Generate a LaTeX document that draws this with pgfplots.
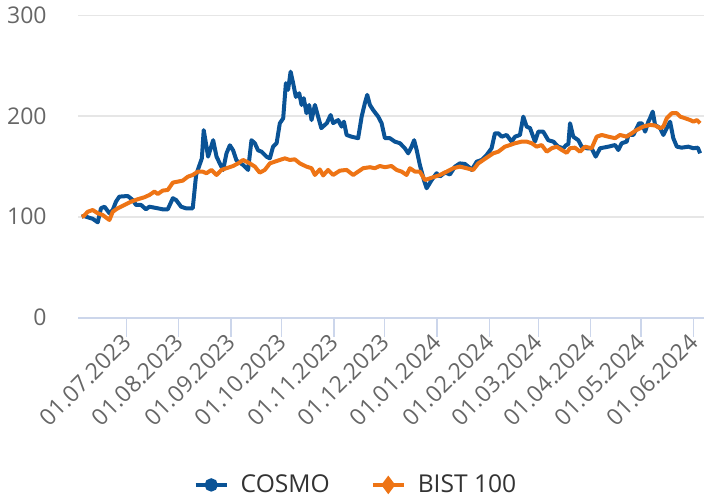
\documentclass[border=0pt]{standalone}
\usepackage{pgfplots}
\pgfplotsset{compat=1.18}
\usepackage{fontspec}
\setmainfont{Open Sans}
\definecolor{cosmo}{HTML}{0A5396}
\definecolor{bist}{HTML}{EE7415}
\definecolor{axisc}{HTML}{CCD6EB}
\definecolor{gridc}{HTML}{E6E6E6}
\definecolor{labc}{HTML}{666666}
\definecolor{legc}{HTML}{333333}
\begin{document}
\begin{tikzpicture}
\begin{axis}[
  scale only axis, width=313pt, height=151.1pt,
  at={(39pt,90.75pt)}, anchor=south west,
  xmin=-28.7, xmax=342.3, ymin=0, ymax=300,
  ytick={0,100,200,300},
  ymajorgrids, grid style={gridc, line width=0.75pt},
  axis x line*=bottom, axis y line*=left,
  x axis line style={axisc, line width=1pt, -},
  y axis line style={draw=none},
  xtick={0,31,62,92,123,153,184,215,244,275,305,336},
  xticklabels={01.07.2023,01.08.2023,01.09.2023,01.10.2023,01.11.2023,01.12.2023,01.01.2024,01.02.2024,01.03.2024,01.04.2024,01.05.2024,01.06.2024},
  tick align=outside, major tick length=9.5pt,
  xtick style={axisc, line width=0.6pt},
  ytick style={draw=none},
  xticklabel style={xshift=1pt, rotate=45, anchor=east, inner sep=1pt, font=\fontsize{11.5}{13}\selectfont, text=labc},
  yticklabel style={anchor=east, inner sep=0pt, font=\fontsize{11.5}{13}\selectfont, text=labc, xshift=-6pt},
  /pgf/number format/assume math mode=true,
  legend style={at={(0.4425,-0.554)}, anchor=center, draw=none, fill=none,
    font=\fontsize{12.3}{14}\selectfont, text=legc,
    nodes={inner sep=0pt},
    /tikz/every odd column/.append style={column sep=6pt},
    /tikz/every even column/.append style={column sep=20.5pt}},
  legend columns=2, legend cell align=left,
  legend image code/.code={\draw[mark repeat=2,mark phase=2,#1] plot coordinates {(0pt,0pt) (7.75pt,0pt) (15.5pt,0pt)};},
]
\addlegendimage{cosmo, line width=2pt, mark=*, mark size=2.3pt, mark options={solid}}
\addlegendentry{COSMO}
\addlegendimage{bist, line width=2pt, mark=diamond*, mark size=3pt, mark options={solid}}
\addlegendentry{BIST 100}
\addplot[cosmo, line width=2pt, line join=round, forget plot] coordinates {
(-26.5,100) (-25.3,100.8) (-22.9,99.5) (-20.0,98) (-17.0,94.5) (-15.1,108.4) (-13.0,110) (-10.1,103.5) (-8.1,106.7) (-6.2,115) (-4.2,120)
(0.8,120.6) (3.7,116.7) (5.7,111.7) (8.7,111.7) (11.6,107.4) (13.6,110) (18.6,108.4) (21.5,107.4) (24.5,107.4) (27.5,118.4) (29.4,116.7)
(32.4,110) (35.3,108.4) (39.3,108.4) (41.3,141.5) (42.3,146.5) (44.7,158) (45.8,186) (47.2,172) (48.4,159.7) (51.4,176) (53.4,159.7)
(55.3,153) (57.3,146.5) (59.3,163) (61.3,171) (63.2,166) (65.2,156) (69.1,151.5) (72.1,146.5) (74.1,176) (76.1,173) (78.0,166)
(80.1,164.6) (83.0,159.7) (85.0,158) (86.9,169.6) (89.0,173) (90.9,192.8) (92.9,197.8) (94.5,232.6) (95.8,226) (97.3,244) (98.8,232.6)
(100.4,219) (102.4,222.6) (103.8,211) (105.1,217.7) (106.7,202.8) (108.3,211) (109.7,196) (111.7,211) (113.6,199.4) (115.5,188)
(118.8,193) (121.0,201) (122.5,193) (125.5,196) (127.5,189.5) (128.9,194.4) (130.5,181.2) (133.4,179.5) (137.3,178) (139.4,199.4)
(141.3,212.7) (142.7,221) (144.3,211) (146.2,206) (149.2,199.4) (151.2,193) (153.2,178) (156.1,178) (159.1,174.6) (162.1,173)
(165.0,168) (167.0,163) (169.0,169.6) (170.5,176) (172.0,166.3) (173.9,151.4) (176.3,136.5) (177.9,128.3) (180.9,136.5) (183.8,143.2)
(185.8,140) (188.8,144) (191.7,142) (194.7,149.8) (197.6,153) (200.6,152.4) (202.6,149.8) (204.6,146.5) (207.6,154.7) (210.5,156.4)
(213.5,161.4) (216.4,168) (218.4,182.9) (220.4,182.9) (222.4,179.5) (225.3,181.2) (228.3,174.6) (230.3,179.5) (233.2,181.2)
(235.2,199.4) (237.2,189.5) (239.2,188) (242.1,174.6) (244.1,184.5) (247.0,184.5) (250.0,176) (253.0,174.6) (255.9,169.6) (258.9,168)
(260.5,171) (261.9,172) (262.9,192.8) (264.8,179.5) (267.8,176) (269.8,169.6) (272.8,168) (275.7,168) (278.1,159.7) (280.7,168)
(285.6,169.6) (289.6,171.2) (291.5,166.3) (293.5,173) (296.5,174.6) (297.5,181.2) (300.4,181.2) (302.4,187.9) (303.8,192.8)
(305.4,192.8) (307.4,184.5) (309.3,194.4) (310.3,197.8) (311.9,204.4) (313.3,191.2) (316.3,187.9) (318.2,181.2) (320.2,187.9)
(322.2,194.4) (324.1,178) (326.2,169.6) (329.1,168.6) (333.0,169.6) (336.0,168) (338.6,168.6) (340.0,163)
};
\addplot[bist, line width=2pt, line join=round, forget plot] coordinates {
(-26.5,100) (-25.3,100.8) (-22.9,105) (-20.0,106.7) (-17.0,103.5) (-14.1,101.8) (-10.1,96.8) (-8.1,105) (-5.2,108.4) (-1.2,111.7)
(2.7,115) (6.7,117.4) (10.7,119.4) (13.6,121.6) (16.6,125) (18.6,122.6) (21.5,126) (24.5,126.6) (27.5,133.9) (30.4,134.9) (33.4,135.9)
(36.4,139.8) (39.3,141.5) (42.3,144.8) (45.2,144.8) (47.4,143.2) (50.4,146.5) (53.4,141.5) (56.3,146.5) (59.3,148.2) (63.2,150.4)
(66.2,153) (69.1,156.4) (73.1,153) (76.1,149.8) (79.0,143.8) (82.0,146.5) (85.0,153) (87.9,154.7) (90.9,156.4) (93.9,158) (96.8,156.4)
(99.8,157) (102.8,153) (106.7,149.8) (109.7,148.2) (111.7,141.5) (114.6,147) (116.6,141) (119.5,146.5) (122.5,141.5) (126.5,145.8)
(130.5,146.5) (134.4,141.5) (137.3,144.8) (140.3,148.2) (144.3,149.2) (147.2,148.2) (150.2,150.4) (153.2,149.2) (157.1,150.4)
(160.1,146.5) (163.1,144.8) (166.0,141.5) (168.0,148.2) (171.0,144.8) (173.9,144.8) (176.9,136.5) (179.9,138.2) (182.8,139.8)
(185.8,141.5) (189.8,144.8) (193.7,148.2) (197.6,149.8) (201.6,148.2) (205.5,146.5) (208.5,153) (211.5,156.4) (214.4,159.7)
(217.4,163) (220.4,164.6) (224.3,169.6) (227.3,171.2) (230.3,173) (234.2,174.6) (237.2,174.6) (240.2,173) (243.1,169.6) (246.1,171.2)
(249.1,164.6) (252.0,168) (255.0,169.6) (258.0,166.3) (260.9,163.5) (262.9,168) (265.8,168.6) (268.8,164.6) (271.8,169.6) (275.7,168)
(278.7,179.5) (281.7,181.2) (285.6,179.5) (289.6,178) (292.5,181.2) (296.5,179.5) (299.5,182.9) (302.4,186.2) (306.3,189.5)
(310.3,191.2) (313.3,190.6) (316.3,187.9) (318.2,189.5) (320.2,197.8) (323.2,202.8) (326.2,202.8) (328.2,199.4) (331.1,197.8)
(334.1,196) (336.0,194.4) (338.1,196) (340.0,192.8)
};
\end{axis}
\pgfresetboundingbox
\path (0,0) rectangle (352pt,249.5pt);
\end{tikzpicture}
\end{document}
